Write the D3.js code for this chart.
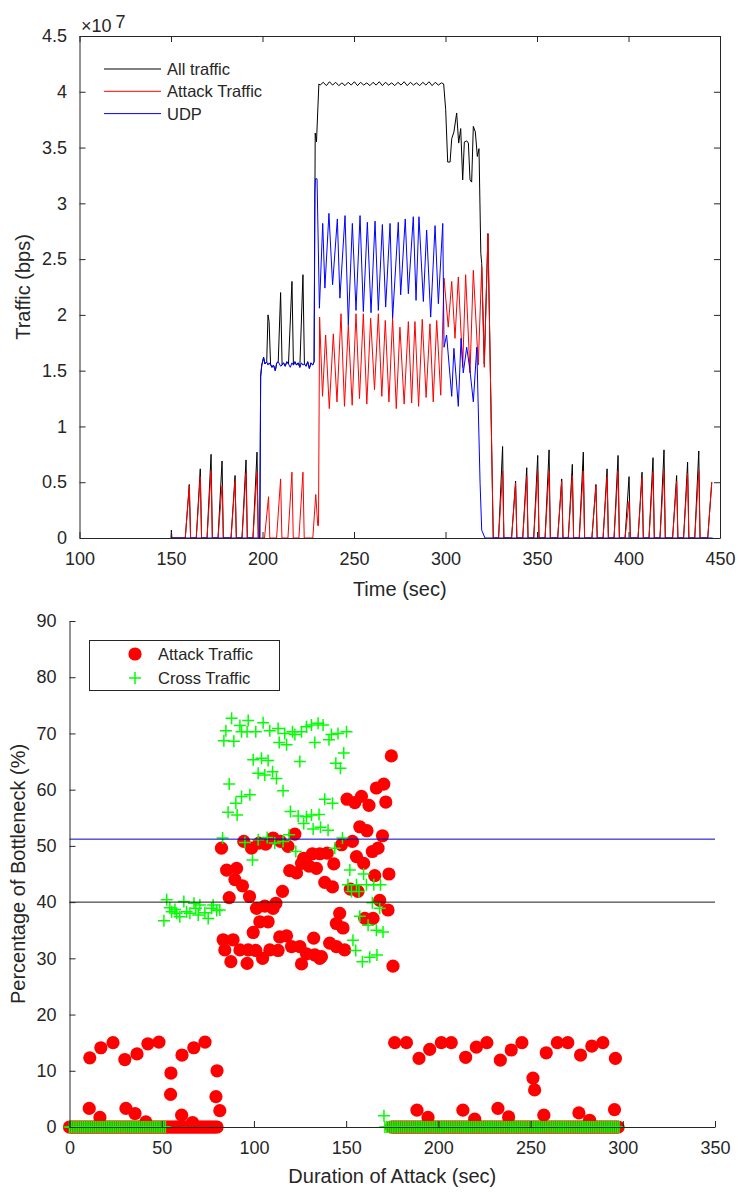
<!DOCTYPE html>
<html>
<head>
<meta charset="utf-8">
<script src="https://cdn.jsdelivr.net/npm/d3@7"></script>
<style>
  body { margin: 0; background: #fff; }
  svg { display: block; }
  text { font-family: "Liberation Sans", Arial, Helvetica, sans-serif; fill: #262626; }
</style>
</head>
<body>
<svg id="chart" width="738" height="1192"></svg>
<script>
// ---------- Traffic over time (values in units of 1e7 bps) ----------
const timeTicks = [100, 150, 200, 250, 300, 350, 400, 450];
const trafficTicks = [0, 0.5, 1, 1.5, 2, 2.5, 3, 3.5, 4, 4.5];

const allTraffic = [
  [150,0],[150.2,0.07],[150.5,0],
  [157.8,0],[160,0.48],[160.7,0],
  [163.8,0],[166,0.62],[166.7,0],
  [169.7,0],[171.9,0.75],[172.6,0],
  [175.7,0],[177.9,0.69],[178.6,0],
  [182.8,0],[185,0.56],[185.7,0],
  [188.8,0],[191,0.70],[191.7,0],
  [194.8,0],[197,0.77],[197.7,0],
  [198.5,0],[199,1.45],[199.6,1.55],[200.6,1.62],[201.3,1.56],[202.3,1.58],[203,2.0],[203.6,1.94],[204.4,1.56],
  [205.2,1.53],[206,1.55],[207,1.5],[207.8,1.57],[208.6,1.58],[209.9,2.2],[210.7,1.55],[211.5,1.57],[212.4,1.54],
  [213.3,1.58],[214.2,1.56],[216.1,2.3],[216.9,1.55],[217.7,1.58],[218.6,1.55],[219.5,1.57],[220.4,1.53],
  [222.1,2.36],[222.9,1.56],[223.8,1.54],[224.7,1.58],[225.6,1.52],[226.5,1.57],[227.4,1.55],[228.2,1.58],
  [228.8,3.63],[229.5,3.55],[230.8,4.07],
  [231.5,4.06],[233.2,4.085],[234.9,4.055],[236.6,4.09],[238.3,4.06],[240.0,4.085],[241.7,4.055],[243.4,4.08],
  [245.1,4.055],[246.8,4.085],[248.5,4.06],[250.2,4.09],[251.9,4.055],[253.6,4.085],[255.3,4.06],[257.0,4.08],
  [258.7,4.055],[260.4,4.085],[262.1,4.06],[263.8,4.09],[265.5,4.055],[267.2,4.085],[268.9,4.06],[270.6,4.08],
  [272.3,4.055],[274.0,4.085],[275.7,4.06],[277.4,4.09],[279.1,4.055],[280.8,4.085],[282.5,4.06],[284.2,4.08],
  [285.9,4.055],[287.6,4.085],[289.3,4.06],[291.0,4.09],[292.7,4.055],[294.4,4.085],[296.1,4.06],[297.8,4.08],
  [299,4.07],[300.1,3.84],[301.2,3.37],[302.5,3.37],[303.4,3.58],[304.6,3.64],[306.1,3.81],[307.2,3.54],
  [308.3,3.67],[309.4,3.21],[310.3,3.55],[311.6,3.56],[312.5,3.54],[313.4,3.21],[314.3,3.19],[315.2,3.69],
  [316.3,3.64],[317.4,3.42],[318.3,3.49],[319.3,2.55],[319.8,2.46],[321.2,1.56],[323.2,2.73],[326.1,0],
  [329.0,0],[331.2,0.82],[331.9,0],
  [336.1,0],[338.3,0.51],[339.0,0],
  [342.2,0],[344.4,0.63],[345.1,0],
  [348.2,0],[350.4,0.74],[351.1,0],
  [354.4,0],[356.6,0.79],[357.3,0],
  [361.3,0],[363.5,0.53],[364.2,0],
  [367.1,0],[369.3,0.66],[370.0,0],
  [373.1,0],[375.3,0.77],[376.0,0],
  [380.0,0],[382.2,0.48],[382.9,0],
  [386.1,0],[388.3,0.62],[389.0,0],
  [392.1,0],[394.3,0.74],[395.0,0],
  [398.1,0],[400.3,0.55],[401.0,0],
  [405.2,0],[407.4,0.59],[408.1,0],
  [411.2,0],[413.4,0.72],[414.1,0],
  [417.2,0],[419.4,0.79],[420.1,0],
  [424.1,0],[426.3,0.56],[427.0,0],
  [430.1,0],[432.3,0.68],[433.0,0],
  [436.2,0],[438.4,0.78],[439.1,0],
  [443.3,0],[445.5,0.50]
];

const attackTraffic = [
  [150,0],
  [157.8,0],[160,0.47],[160.7,0],
  [163.8,0],[166,0.55],[166.7,0],
  [169.7,0],[171.9,0.60],[172.6,0],
  [175.7,0],[177.9,0.47],[178.6,0],
  [182.8,0],[185,0.51],[185.7,0],
  [188.8,0],[191,0.58],[191.7,0],
  [194.8,0],[197,0.59],[197.7,0],
  [201.1,0],[203.3,0.37],[204.0,0],
  [207.7,0],[209.9,0.53],[210.6,0],
  [213.9,0],[216.1,0.59],[216.8,0],
  [219.9,0],[222.1,0.59],[222.8,0],
  [227.5,0],[229.1,0.39],[230.2,0.11],[230.6,0.11],
  [231.2,1.98],[232.8,1.27],[234.5,1.82],[236.5,1.16],[238.7,1.83],[240.7,1.22],[242.9,2.01],[244.8,1.18],
  [246.9,1.91],[249.0,1.19],[251.1,2.01],[253.0,1.25],[255.1,2.01],[257.0,1.20],[259.1,1.97],[261.2,1.33],
  [263.3,2.01],[265.2,1.27],[267.1,1.95],[269.1,1.22],[271.1,1.97],[273.1,1.16],[275.1,1.89],[277.4,1.20],
  [279.7,1.94],[281.5,1.21],[283.3,1.94],[285.3,1.18],[287.3,1.96],[289.4,1.26],[291.5,1.92],[293.3,1.22],
  [295.2,1.95],[297.4,1.28],
  [299.2,2.33],[301.5,1.89],[303.4,2.30],[305.2,1.79],[307.0,2.34],[309.4,1.53],[311.0,2.36],[313.4,1.48],
  [315.2,2.40],[317.9,1.55],[319.8,2.43],[321.2,1.53],[323.2,2.72],[326.1,0],
  [329.0,0],[331.2,0.60],[331.9,0],
  [336.1,0],[338.3,0.49],[339.0,0],
  [342.2,0],[344.4,0.55],[345.1,0],
  [348.2,0],[350.4,0.60],[351.1,0],
  [354.4,0],[356.6,0.60],[357.3,0],
  [361.3,0],[363.5,0.51],[364.2,0],
  [367.1,0],[369.3,0.56],[370.0,0],
  [373.1,0],[375.3,0.60],[376.0,0],
  [380.0,0],[382.2,0.47],[382.9,0],
  [386.1,0],[388.3,0.55],[389.0,0],
  [392.1,0],[394.3,0.60],[395.0,0],
  [398.1,0],[400.3,0.33],[401.0,0],
  [405.2,0],[407.4,0.54],[408.1,0],
  [411.2,0],[413.4,0.59],[414.1,0],
  [417.2,0],[419.4,0.60],[420.1,0],
  [424.1,0],[426.3,0.51],[427.0,0],
  [430.1,0],[432.3,0.58],[433.0,0],
  [436.2,0],[438.4,0.60],[439.1,0],
  [443.3,0],[445.5,0.50]
];

const udpTraffic = [
  [150,0],[198.5,0],[199,1.45],[199.6,1.55],[200.6,1.62],[201.3,1.56],[202.3,1.58],[203,1.55],[203.6,1.57],
  [204.4,1.55],[205.2,1.53],[206,1.55],[207,1.5],[207.8,1.57],[208.6,1.58],[209.9,1.54],[210.7,1.55],
  [211.5,1.57],[212.4,1.54],[213.3,1.58],[214.2,1.56],[215.2,1.53],[216.1,1.57],[216.9,1.55],[217.7,1.58],
  [218.6,1.55],[219.5,1.57],[220.4,1.53],[221.3,1.57],[222.1,1.55],[222.9,1.56],[223.8,1.54],[224.7,1.58],
  [225.6,1.52],[226.5,1.57],[227.4,1.55],[228.2,1.58],[228.6,3.1],[228.9,3.22],[229.8,3.22],[231.1,2.06],
  [232.9,2.82],[234.1,2.24],[236.3,2.91],[238.3,2.27],[240.9,2.86],[242.3,2.15],[245.1,2.89],[246.9,1.91],
  [249.1,2.82],[251.1,2.04],[253.3,2.89],[255.1,2.03],[257.3,2.83],[259.3,2.02],[261.5,2.84],[263.3,2.04],
  [265.5,2.81],[267.3,2.07],[269.7,2.82],[271.1,1.97],[274.2,2.83],[275.5,2.18],[278.0,2.86],[279.7,2.19],
  [282.4,2.88],[283.9,2.13],[285.5,2.88],[287.9,2.12],[289.7,2.76],[291.9,1.98],[294.3,2.80],[296.1,2.10],
  [298.5,2.82],
  [299.2,1.71],[300.6,1.82],[303.4,1.27],[304.6,1.70],[307.0,1.18],[308.5,1.79],[309.7,1.48],[311.6,1.71],
  [313.4,1.50],[315.2,1.22],[317.1,1.71],[318.9,0.49],[319.8,0.07],[321.6,0],[446,0]
];

// ---------- Share of bottleneck vs attack duration ----------
const durationTicks = [0, 50, 100, 150, 200, 250, 300, 350];
const percentTicks = [0, 10, 20, 30, 40, 50, 60, 70, 80, 90];

const attackPoints = [
  [10.7,3.3],[11,12.3],[16.5,1.7],[17,14.1],[23.6,15],[30,12],[30.6,3.3],[35.5,2.4],[36.6,13],[41.4,0.9],
  [42.5,14.8],[48.5,15.1],[55,9.6],[54.8,5.8],[60.8,2.1],[61,12.8],[66.7,0.8],[67.4,14.1],[73.5,15.1],
  [79.4,5.4],[80,10],[81.5,2.9],
  [82.4,49.6],[94.5,50.8],[98.7,49.6],[102.8,50.5],[106.4,50.3],[110.4,51.4],[114.4,50.8],[118.5,49.9],
  [122.2,52.1],[147.5,50.2],[153.4,50.8],[167.3,49.6],[164.2,49.0],[169.7,51.8],
  [127,47.8],[131.7,48.6],[135.7,48.6],[139.7,48.7],[155.6,48.1],[159.5,46.9],[143.3,46.8],
  [85.2,45.7],[90.6,46.0],[89.7,44.0],[93.8,42.9],[119.4,45.6],[123.1,45.2],[129.9,46.4],[133.9,46.0],
  [125.8,46.9],[165.5,44.7],[173.2,45.0],[138.4,43.5],[142.6,42.7],[115.5,41.9],[152.3,42.3],[156.4,41.9],
  [86.6,40.8],[97.6,41.0],[168.2,40.3],[101.4,38.9],[105.9,39.3],[110.4,38.9],[111.9,39.8],[146.5,38.0],
  [144.7,36.2],[148.3,35.4],[172.7,38.6],[160.1,37.1],[164.6,37.1],[103.2,36.5],[107.7,36.5],[99.6,34.6],
  [114,33.8],[117.7,34.0],[132.4,33.6],[83.3,33.3],[88.7,33.3],[84.2,31.5],
  [92.4,31.5],[96.9,31.5],[101.0,31.4],[108.6,31.5],[113.1,31.4],[120.4,32.1],[124.9,32.1],[128.5,30.8],
  [133.0,30.6],[136.6,30.3],[141.1,32.7],[144.7,32.1],[149.2,31.5],
  [87.5,29.4],[96.3,29.1],[104.7,30.0],[125.8,29.0],[135.7,30.0],[175.4,28.6],
  [174.5,66.0],[170.4,61.0],[166.4,60.3],[171.5,57.8],[150.5,58.3],[154.7,57.7],[158.3,58.8],[162.4,57.2],
  [157.4,53.4],[161.3,52.7],
  [176.3,15],[182.7,15],[189.5,12.2],[195.3,13.8],[201.6,15],[207,15],[214.8,12.4],[220.6,14.2],[226.3,15],
  [233.6,11.9],[239.5,13.7],[245.3,15],[251.3,8.7],[252.2,6.6],[258.5,13.2],[264.5,15],[270.2,15],[277.1,12.8],
  [283.2,14.4],[289.2,15],[296,12.2],
  [188.4,3],[194.4,1.7],[213.3,3],[219.7,1.4],[232.3,3.3],[238.1,1.8],[257.2,2.1],[276.2,2.5],[282,1.2],[295.5,3.1]
];

const crossPoints = [
  [87.9,72.7],[96.9,72.3],[105,71.9],[84.8,70.5],[92.4,71.4],[93.3,70.3],[96.3,70.3],[101,70.3],[83.7,68.7],
  [89.1,68.6],[108.6,70.5],[113.1,70.9],[116.7,70.0],[120.9,70.3],[122.2,69.8],[125.8,70.3],[128.5,71.2],
  [131.2,71.5],[134.8,71.8],[137.5,71.5],[142,69.8],[145.6,70.0],[150.2,70.3],[113.7,68.4],[117.7,68],
  [133,68.4],[140.7,68.9],
  [99.6,65.3],[104.1,65.6],[107.7,65.2],[124.9,65.0],[148.7,66.5],[144.4,64.7],[146.9,63.8],[102.3,62.9],
  [105.9,62.6],[110.1,63.2],[112.2,62.0],[86.6,61.0],[115.8,59.8],[93.3,58.8],[97.8,59.1],[90.2,57.6],
  [138.4,58.3],[142.6,57.6],[86,56],[90.9,55.5],[119.8,56.1],[124,55.3],[128.5,55.2],[131.2,55.5],
  [135.3,55.6],[127,54.0],[132.1,53.0],[136.1,53.3],[140.2,52.8],[83,51.4],[95.1,50.6],[102.3,51.1],
  [107.2,51.5],[111.3,50.5],[115.8,50.8],[119.1,52.0],[148,51.4],[143.8,49.6],[122.7,49.0],[99.2,47.5],
  [152,45.7],[159.5,45.0],[151,43.1],[155.6,43.1],[161,43.1],[165,43.1],[168.6,43.1],[152.9,41.9],[157,41.9],
  [164.2,39.9],[168.2,38.9],[157.4,37.5],[161.9,35.9],[166.4,35.0],[170,34.7],[153.7,33.2],[155.2,31.4],
  [158.8,29.4],[162.8,30.2],[166.7,30.6],
  [52.7,40.4],[51.2,36.7],[54.4,39.0],[55.4,38.3],[57.2,38.7],[59.8,37.4],[62,40.1],[63.5,38.3],[67.5,39.8],
  [68.5,38.9],[70.7,39.5],[73.4,38.1],[75.2,37.1],[77.1,38.9],[77.9,39.5],[79.8,38.5],[81.5,38.6],[58.1,38.0],
  [65.3,38.0],[69.8,37.7],
  [170.5,2.0]
];

// stretches of attack duration where a share of 0 % was recorded every second
const attackZeroRuns = [[0, 80.5], [174.5, 297.5]];
const crossZeroRuns = [[0, 52.5], [171, 298]];
const zeroStep = 1;

// reference levels (percent of bottleneck)
const referenceLevels = [{ value: 51.2, color: "#0000cc" }, { value: 40, color: "#1a1a1a" }];

// ---------------------------------------------------------------------
const svg = d3.select("#chart");
const axisColor = "#262626";

function styleAxis(g) {
  g.selectAll("path.domain").attr("stroke", axisColor).attr("stroke-width", 1);
  g.selectAll(".tick line").attr("stroke", axisColor).attr("stroke-width", 1);
  g.selectAll(".tick text").attr("fill", axisColor).style("font-size", "18px")
    .style("font-family", '"Liberation Sans", Arial, sans-serif');
}

// ===== Top panel =====
const boxT = { left: 79.5, right: 720, top: 36, bottom: 538 };
const xT = d3.scaleLinear().domain([100, 450]).range([boxT.left, boxT.right]);
const yT = d3.scaleLinear().domain([0, 4.5]).range([boxT.bottom, boxT.top]);

const topPlot = svg.append("g");
topPlot.append("defs").append("clipPath").attr("id", "clipTop")
  .append("rect").attr("x", boxT.left).attr("y", boxT.top)
  .attr("width", boxT.right - boxT.left).attr("height", boxT.bottom - boxT.top);

const lineT = d3.line().x(d => xT(d[0])).y(d => yT(d[1]));
const series = [
  { data: allTraffic, color: "#000000", name: "All traffic" },
  { data: attackTraffic, color: "#ff0000", name: "Attack Traffic" },
  { data: udpTraffic, color: "#0000ff", name: "UDP" }
];
const linesG = topPlot.append("g").attr("clip-path", "url(#clipTop)");
series.forEach(s => {
  linesG.append("path").datum(s.data).attr("d", lineT)
    .attr("fill", "none").attr("stroke", s.color).attr("stroke-width", 1)
    .attr("stroke-linejoin", "round");
});

// axes of the top panel (box with inward ticks)
topPlot.append("g").attr("transform", `translate(0,${boxT.bottom})`)
  .call(d3.axisBottom(xT).tickValues(timeTicks).tickSizeInner(-6).tickSizeOuter(0).tickPadding(14))
  .call(styleAxis);
topPlot.append("g").attr("transform", `translate(0,${boxT.top})`)
  .call(d3.axisTop(xT).tickValues(timeTicks).tickSizeInner(-6).tickSizeOuter(0).tickFormat(""))
  .call(styleAxis);
topPlot.append("g").attr("transform", `translate(${boxT.left},0)`)
  .call(d3.axisLeft(yT).tickValues(trafficTicks).tickSizeInner(-6).tickSizeOuter(0).tickPadding(12.5)
    .tickFormat(d => String(d)))
  .call(styleAxis);
topPlot.append("g").attr("transform", `translate(${boxT.right},0)`)
  .call(d3.axisRight(yT).tickValues(trafficTicks).tickSizeInner(-6).tickSizeOuter(0).tickFormat(""))
  .call(styleAxis);

// exponent marker
const expo = topPlot.append("text").attr("x", 81).attr("y", 32).style("font-size", "18px");
expo.append("tspan").text("\u00d710");
expo.append("tspan").attr("dx", 4).attr("dy", -4).text("7");

topPlot.append("text").attr("x", (boxT.left + boxT.right) / 2).attr("y", 596)
  .attr("text-anchor", "middle").style("font-size", "20px").text("Time (sec)");
topPlot.append("text").attr("transform", `translate(30,${(boxT.top + boxT.bottom) / 2}) rotate(-90)`)
  .attr("text-anchor", "middle").style("font-size", "20px").text("Traffic (bps)");

// legend of the top panel
const legT = topPlot.append("g");
series.forEach((s, i) => {
  const ly = 69 + i * 22.3;
  legT.append("line").attr("x1", 104).attr("x2", 161).attr("y1", ly).attr("y2", ly)
    .attr("stroke", s.color).attr("stroke-width", 1);
  legT.append("text").attr("x", 167).attr("y", ly + 6).style("font-size", "16.5px").text(s.name);
});

// ===== Bottom panel =====
const boxB = { left: 69.5, right: 715, top: 621, bottom: 1127 };
const xB = d3.scaleLinear().domain([0, 350]).range([boxB.left, boxB.right]);
const yB = d3.scaleLinear().domain([0, 90]).range([boxB.bottom, boxB.top]);

const botPlot = svg.append("g");

const expandRuns = runs => runs.flatMap(([a, b]) => d3.range(a, b + 1e-9, zeroStep).map(d => [d, 0]));
const attackAll = expandRuns(attackZeroRuns).concat(attackPoints);
const crossAll = expandRuns(crossZeroRuns).concat(crossPoints);

botPlot.append("g").selectAll("circle").data(attackAll).join("circle")
  .attr("cx", d => xB(d[0])).attr("cy", d => yB(d[1])).attr("r", 6.6)
  .attr("fill", "#ff0000");

const plusPath = "M-6,0H6M0,-6V6";
botPlot.append("g").selectAll("path").data(crossAll).join("path")
  .attr("transform", d => `translate(${xB(d[0])},${yB(d[1])})`)
  .attr("d", plusPath).attr("stroke", "#00ff00").attr("stroke-width", 1.5).attr("fill", "none");

botPlot.append("g").selectAll("line").data(referenceLevels).join("line")
  .attr("x1", boxB.left).attr("x2", boxB.right)
  .attr("y1", d => yB(d.value)).attr("y2", d => yB(d.value))
  .attr("stroke", d => d.color).attr("stroke-width", 1);

botPlot.append("g").attr("transform", `translate(0,${boxB.bottom})`)
  .call(d3.axisBottom(xB).tickValues(durationTicks).tickSizeInner(-6).tickSizeOuter(0).tickPadding(14))
  .call(styleAxis);
botPlot.append("g").attr("transform", `translate(${boxB.left},0)`)
  .call(d3.axisLeft(yB).tickValues(percentTicks).tickSizeInner(-6).tickSizeOuter(0).tickPadding(13))
  .call(styleAxis);

botPlot.append("text").attr("x", (boxB.left + boxB.right) / 2).attr("y", 1183)
  .attr("text-anchor", "middle").style("font-size", "20px").text("Duration of Attack (sec)");
botPlot.append("text").attr("transform", `translate(25,${(boxB.top + boxB.bottom) / 2}) rotate(-90)`)
  .attr("text-anchor", "middle").style("font-size", "20px").text("Percentage of Bottleneck (%)");

// legend of the bottom panel
const legB = botPlot.append("g");
legB.append("rect").attr("x", 89.5).attr("y", 640.5).attr("width", 190).attr("height", 50)
  .attr("fill", "#fff").attr("stroke", axisColor).attr("stroke-width", 1);
legB.append("circle").attr("cx", 135).attr("cy", 654).attr("r", 6.6).attr("fill", "#ff0000");
legB.append("path").attr("transform", "translate(135,678)").attr("d", plusPath)
  .attr("stroke", "#00ff00").attr("stroke-width", 1.5).attr("fill", "none");
legB.append("text").attr("x", 158).attr("y", 660).style("font-size", "16.5px").text("Attack Traffic");
legB.append("text").attr("x", 158).attr("y", 684).style("font-size", "16.5px").text("Cross Traffic");
</script>
</body>
</html>
